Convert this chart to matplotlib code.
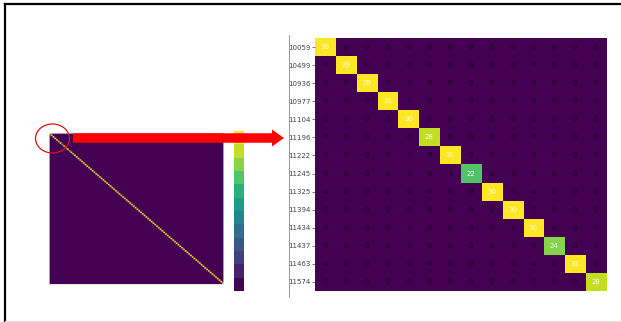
import numpy as np
import matplotlib
matplotlib.use('Agg')
import matplotlib.pyplot as plt
from matplotlib.patches import Ellipse, FancyArrow

# class labels shown in the zoomed panel
labels = ['10059', '10499', '10936', '10977', '11104', '11196', '11222',
          '11245', '11325', '11394', '11434', '11437', '11463', '11574']

# diagonal counts (correct predictions) for all classes
diag = [30, 29, 29, 31, 30, 28, 31, 22, 30, 30, 30, 24, 31, 28,
        30, 31, 30, 29, 30, 30, 31, 30, 29, 30, 30, 28, 30, 31, 30, 30,
        29, 30, 31, 30, 30, 29, 30, 30, 31, 30, 28, 30, 30, 29, 31, 30,
        30, 30, 29, 30, 31, 30, 30, 30, 29, 30, 30, 31, 30, 28, 30, 30,
        29, 30, 31, 30, 30, 30, 29, 30, 30, 31, 30, 30, 29, 30, 30, 31,
        30, 30, 28, 30, 29, 30, 31, 30, 30, 30, 29, 30, 30, 31, 30, 30,
        29, 30, 30, 31]
# off-diagonal confusions: (true row, predicted col, count)
confusions = [(7, 6, 1), (58, 23, 1), (12, 57, 1), (85, 40, 1)]

n = len(diag)
cm = np.zeros((n, n), dtype=int)
cm[np.arange(n), np.arange(n)] = diag
for r, c, v in confusions:
    cm[r, c] = v

cmap = plt.get_cmap('viridis', 12)
vmax = 31

fig = plt.figure(figsize=(6.21, 3.22), dpi=100)
W, H = 621, 322

def box(x0, y0, x1, y1):
    return [x0 / W, 1 - y1 / H, (x1 - x0) / W, (y1 - y0) / H]

# full confusion matrix
ax1 = fig.add_axes(box(49, 133, 223, 284))
im = ax1.imshow(cm, cmap=cmap, vmin=0, vmax=vmax, aspect='auto', interpolation='antialiased')
ax1.set_xticks([])
ax1.set_yticks([])
for s in ax1.spines.values():
    s.set_color('#dddddd')
    s.set_linewidth(0.5)

cax = fig.add_axes(box(234, 131, 244, 291))
cb = fig.colorbar(im, cax=cax)
cb.outline.set_visible(False)
cax.set_yticks([])

# zoomed top-left corner
k = len(labels)
sub = cm[:k, :k]
ax2 = fig.add_axes(box(315, 38, 606, 291))
ax2.imshow(sub, cmap=cmap, vmin=0, vmax=vmax, aspect='auto', interpolation='nearest')
for i in range(k):
    for j in range(k):
        v = sub[i, j]
        ax2.text(j, i, str(v), ha='center', va='center', fontsize=5,
                 color='white' if v > 15 else '#000000', alpha=0.9 if v > 15 else 0.75)
ax2.set_xticks([])
ax2.set_yticks(range(k))
ax2.set_yticklabels(labels, fontsize=5, color='#222222')
ax2.tick_params(axis='y', length=2, width=0.5, pad=1, colors='#444444')
for s in ax2.spines.values():
    s.set_visible(False)

# overlay for frame, arrow and highlight ring
ov = fig.add_axes([0, 0, 1, 1])
ov.set_xlim(0, W)
ov.set_ylim(H, 0)
ov.axis('off')
ov.patch.set_alpha(0)
ov.plot([5, 5], [4, 322], color='black', lw=1.6)
ov.plot([5, W], [4, 4], color='black', lw=1.6)
ov.plot([5, W], [320.5, 320.5], color='#dddddd', lw=0.8)
ov.plot([289, 289], [35, 297], color='#888888', lw=0.6)
ov.add_patch(FancyArrow(73, 138, 211, 0, width=9.5, head_width=17, head_length=12,
                        length_includes_head=True, color='#ff0000', lw=0))
ov.add_patch(Ellipse((52.5, 138.5), 34, 29, fill=False, edgecolor='#e01010', lw=0.9))

fig.savefig('out.png', dpi=100)
